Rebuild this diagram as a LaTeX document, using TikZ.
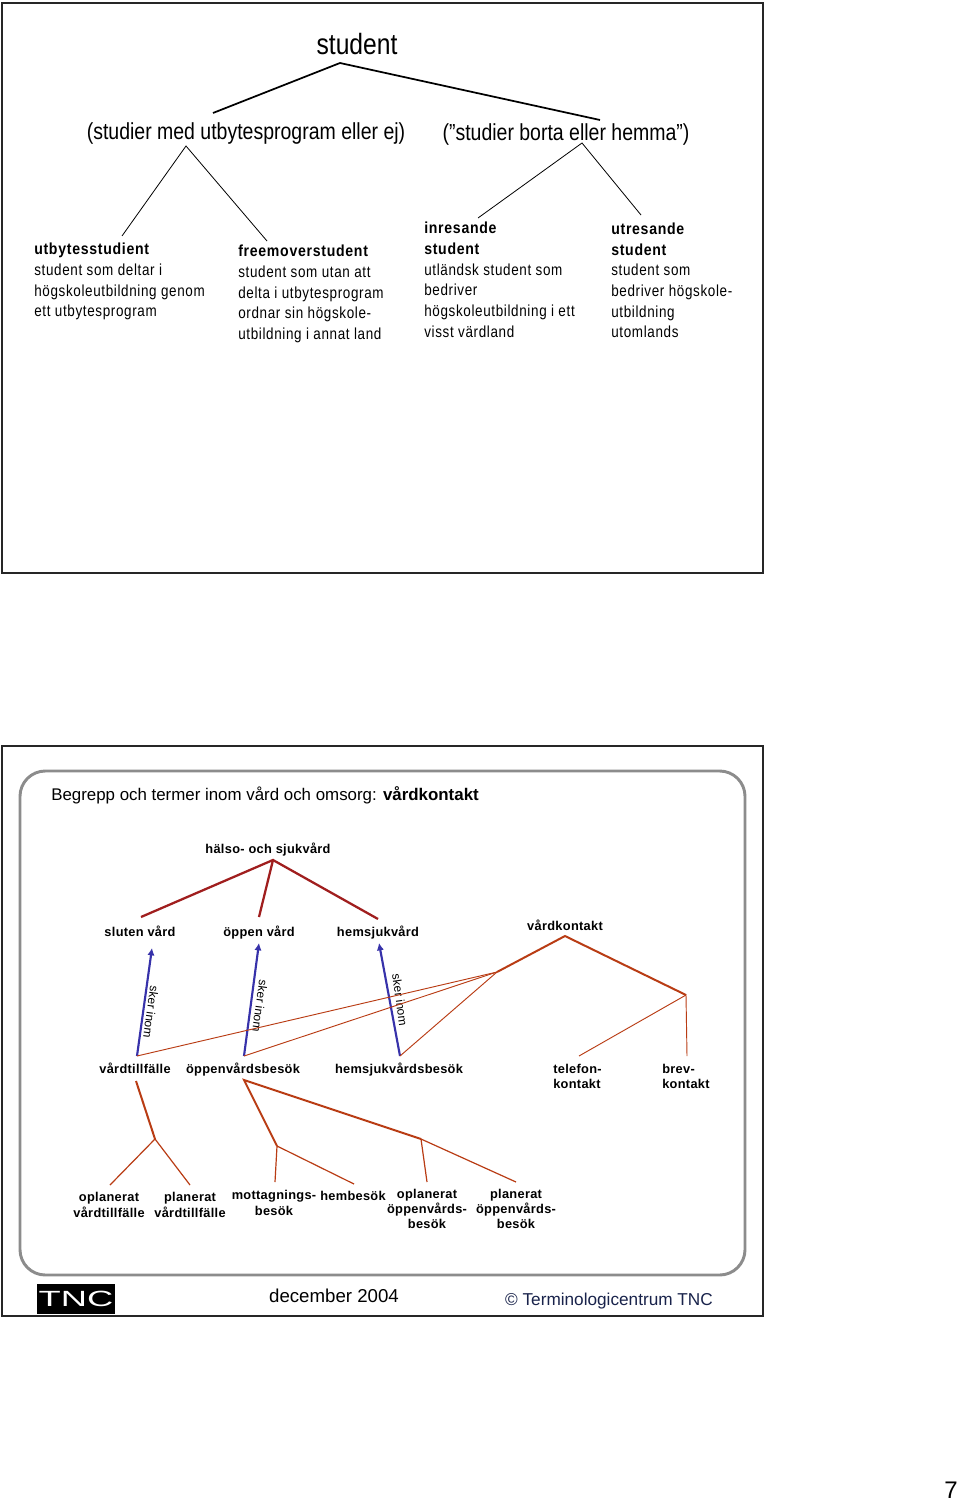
\documentclass[tikz,border=0pt]{standalone}
\usepackage{fontspec}
\setmainfont{Liberation Sans}
\newfontfamily\narrowfont[FakeStretch=0.84]{Liberation Sans}
\newfontfamily\blockfont[FakeStretch=0.84,LetterSpace=4.1]{Liberation Sans}
\newfontfamily\blockbold[FakeStretch=0.88,LetterSpace=4.5]{Liberation Sans Bold}
\newfontfamily\spacedbold[LetterSpace=2.4]{Liberation Sans Bold}
\newfontfamily\logofont[FakeStretch=1.65]{Liberation Sans}
\usetikzlibrary{arrows.meta}
\definecolor{framegray}{RGB}{140,140,140}
\definecolor{darkred}{RGB}{160,30,30}
\definecolor{rust}{RGB}{185,60,20}
\definecolor{arrowblue}{RGB}{55,50,170}
\definecolor{navy}{RGB}{25,35,75}
\tikzset{
  bigterm/.style={font=\narrowfont\fontsize{17.4}{20}\selectfont, inner sep=0pt},
  defblock/.style={font=\blockfont\fontsize{12}{15.5}\selectfont, align=left, anchor=north west, inner sep=0pt},
  term/.style={font=\spacedbold\fontsize{9.6}{11.4}\selectfont, align=center, inner sep=0pt},
  skerlabel/.style={font=\fontsize{9}{11}\selectfont, inner sep=0pt},
  redline/.style={draw=darkred, line width=1.7pt},
  rustthick/.style={draw=rust, line width=1.5pt},
  rustthin/.style={draw=rust, line width=0.7pt},
  rustmid/.style={draw=rust, line width=0.9pt},
  inomarrow/.style={draw=arrowblue, line width=1.6pt, -{Latex[length=5.5pt,width=5.5pt]}}
}
\begin{document}
\begin{tikzpicture}[x=0.75pt, y=-0.75pt]
  \useasboundingbox (0,0) rectangle (960,1501);
  \fill[white] (0,0) rectangle (960,1501);
  % frames
  \draw[line width=2.2pt, black!85] (2,3) rectangle (763,573);
  \draw[line width=2.2pt, black!85] (2,746) rectangle (763,1316);
  \draw[line width=2.2pt, framegray, rounded corners=19pt] (20,771) rectangle (745,1275);

  % upper slide
  \node[bigterm, font=\narrowfont\fontsize{22}{24}\selectfont] (student) at (357,44) {student};
  \node[bigterm] (utbyte) at (246,134) {(studier med utbytesprogram eller ej)};
  \node[bigterm] (borta) at (566,134) {(”studier borta eller hemma”)};
  \node[defblock] (utbytes) at (34,243) {{\blockbold utbytesstudient}\\student som deltar i\\högskoleutbildning genom\\ett utbytesprogram};
  \node[defblock] (freemover) at (238,245) {{\blockbold freemoverstudent}\\student som utan att\\delta i utbytesprogram\\ordnar sin högskole-\\utbildning i annat land};
  \node[defblock] (inresande) at (424,222) {{\blockbold inresande}\\{\blockbold student}\\utländsk student som\\bedriver\\högskoleutbildning i ett\\visst värdland};
  \node[defblock] (utresande) at (611,222.5) {{\blockbold utresande}\\{\blockbold student}\\student som\\bedriver högskole-\\utbildning\\utomlands};

  \coordinate (studtop) at (340,63);
  \coordinate (studl) at (213,113);
  \coordinate (studr) at (600,120);
  \coordinate (utbtop) at (186,146);
  \coordinate (utbl) at (122,236);
  \coordinate (utbr) at (267,241);
  \coordinate (bortop) at (582,143);
  \coordinate (borl) at (478,218);
  \coordinate (borr) at (641,215);
  \draw[line width=1.3pt] (studl) -- (studtop) -- (studr);
  \draw[line width=0.6pt] (utbl) -- (utbtop) -- (utbr);
  \draw[line width=0.6pt] (borl) -- (bortop) -- (borr);

  % lower slide
  \node[anchor=west, inner sep=0pt, font=\fontsize{12.66}{15}\selectfont] (title) at (51,795) {Begrepp och termer inom vård och omsorg: \textbf{vårdkontakt}};
  \node[term] (halso) at (268,850) {hälso- och sjukvård};
  \node[term] (sluten) at (140,931) {sluten vård};
  \node[term] (oppen) at (259,933) {öppen vård};
  \node[term] (hemsjuk) at (378,933) {hemsjukvård};
  \node[term] (kontakt) at (565,925) {vårdkontakt};
  \node[term] (tillfalle) at (135,1068) {vårdtillfälle};
  \node[term] (besok) at (243,1070) {öppenvårdsbesök};
  \node[term] (hembes) at (399,1070) {hemsjukvårdsbesök};
  \node[term, align=left, anchor=north west] (telefon) at (553,1064) {telefon-\\kontakt};
  \node[term, align=left, anchor=north west] (brev) at (662,1064) {brev-\\kontakt};
  \node[term] (oplvt) at (109,1205) {oplanerat\\vårdtillfälle};
  \node[term] (plavt) at (190,1205) {planerat\\vårdtillfälle};
  \node[term] (mott) at (274,1203) {mottagnings-\\besök};
  \node[term] (hembesok) at (353,1196) {hembesök};
  \node[term] (oplov) at (427,1209) {oplanerat\\öppenvårds-\\besök};
  \node[term] (plaov) at (516,1209) {planerat\\öppenvårds-\\besök};

  \coordinate (halsotop) at (273,860);
  \coordinate (slutenin) at (141,917);
  \coordinate (oppenin) at (259,917);
  \coordinate (hemin) at (378,919);
  \draw[redline] (slutenin) -- (halsotop) -- (hemin);
  \draw[redline] (halsotop) -- (oppenin);

  \coordinate (vtfot) at (137,1056);
  \coordinate (ovfot) at (244,1056);
  \coordinate (hvfot) at (400,1056);
  \coordinate (slutenut) at (152,948);
  \coordinate (oppenut) at (259,943);
  \coordinate (hemut) at (379,943);
  \draw[inomarrow] (vtfot) -- (slutenut);
  \draw[inomarrow] (ovfot) -- (oppenut);
  \draw[inomarrow] (hvfot) -- (hemut);
  \node[skerlabel, rotate=-98] (sker1) at (151,1012) {sker inom};
  \node[skerlabel, rotate=-98] (sker2) at (260,1006) {sker inom};
  \node[skerlabel, rotate=-82] (sker3) at (400,1000) {sker inom};

  \coordinate (kontop) at (565,936);
  \coordinate (konl) at (497,972);
  \coordinate (konr) at (686,995);
  \coordinate (telin) at (579,1056);
  \coordinate (brevin) at (687,1056);
  \draw[rustthick] (konl) -- (kontop) -- (konr);
  \draw[rustthin] (vtfot) -- (konl);
  \draw[rustthin] (ovfot) -- (konl);
  \draw[rustthin] (hvfot) -- (konl);
  \draw[rustthin] (telin) -- (konr) -- (brevin);

  \coordinate (vtout) at (136,1081);
  \coordinate (vtgren) at (155,1139);
  \coordinate (oplvtin) at (110,1185);
  \coordinate (plavtin) at (190,1185);
  \draw[rustthick] (vtout) -- (vtgren);
  \draw[rustmid] (oplvtin) -- (vtgren) -- (plavtin);

  \coordinate (ovout) at (244,1080);
  \coordinate (ovgren) at (277,1146);
  \coordinate (ovgrenb) at (421,1139);
  \coordinate (mottin) at (275,1182);
  \coordinate (hemin2) at (354,1184);
  \coordinate (oplovin) at (427,1182);
  \coordinate (plaovin) at (516,1182);
  \draw[rustthick] (ovgren) -- (ovout) -- (ovgrenb);
  \draw[rustmid] (mottin) -- (ovgren) -- (hemin2);
  \draw[rustmid] (oplovin) -- (ovgrenb) -- (plaovin);

  % footer
  \node[fill=black, text=white, minimum width=58.5pt, minimum height=22.5pt, inner sep=0pt, font=\logofont\fontsize{16.5}{18}\selectfont] (logo) at (76,1299) {TNC};
  \node[inner sep=0pt, font=\fontsize{14}{16}\selectfont] (datum) at (334,1296) {december 2004};
  \node[inner sep=0pt, text=navy, font=\fontsize{12.9}{15}\selectfont] (copyright) at (609,1301) {© Terminologicentrum TNC};
  \node[inner sep=0pt, font=\fontsize{18}{20}\selectfont] (sida) at (951,1490) {7};
\end{tikzpicture}
\end{document}
